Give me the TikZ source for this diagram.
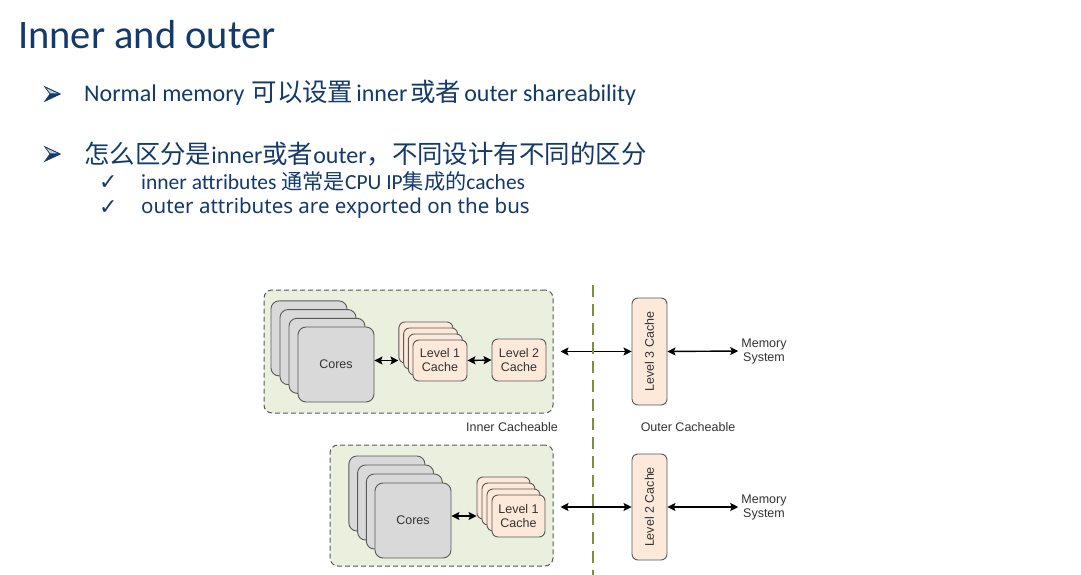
\documentclass[tikz,border=0pt]{standalone}
\usepackage{fontspec}
\setmainfont{Carlito}
\newfontfamily\cjk[Scale=1.06]{Noto Sans CJK SC}
\newfontfamily\subfont{Noto Sans}
\newfontfamily\diag{Liberation Sans}
\newfontfamily\sym{DejaVu Sans}
\usetikzlibrary{arrows.meta, positioning, calc}
\definecolor{slc}{HTML}{133A6B}
\definecolor{grc}{HTML}{EBF0DE}
\definecolor{crc}{HTML}{D9D9D9}
\definecolor{pec}{HTML}{FCE9DA}
\definecolor{olc}{HTML}{77933C}
\definecolor{edc}{HTML}{595959}

\begin{document}
\begin{tikzpicture}[x=1pt, y=-1pt,
    >={Stealth[length=8pt, width=8pt, inset=1.5pt]},
    title/.style={anchor=base west, inner sep=0, text=slc,
      font=\fontsize{40.5}{44}\selectfont},
    lvone/.style={anchor=base west, inner sep=0, text=slc,
      font=\fontsize{24}{28}\selectfont},
    lvtwo/.style={anchor=base west, inner sep=0, text=slc,
      font=\fontsize{21.5}{24}\selectfont},
    tick/.style={anchor=base west, inner sep=0, text=slc,
      font=\sym\fontsize{22}{24}\selectfont},
    group/.style={draw=edc, dashed, dash pattern=on 5pt off 3pt,
      line width=1pt, fill=grc, rounded corners=8pt},
    core/.style={draw=edc, line width=0.9pt, fill=crc,
      rounded corners=8pt, minimum width=76pt, minimum height=75pt,
      font=\diag\fontsize{12.5}{14}\selectfont, text=black!80},
    cache/.style={draw=edc, line width=0.9pt, fill=pec,
      rounded corners=6pt, minimum width=54pt, minimum height=42pt,
      align=center, font=\diag\fontsize{12.5}{14}\selectfont,
      text=black!80},
    outer/.style={cache, minimum height=35pt, rotate=90},
    lbl/.style={font=\diag\fontsize{12.5}{14}\selectfont, text=black!80,
      align=center, inner sep=3pt},
    link/.style={<->, line width=1.4pt}]
  \useasboundingbox (0,0) rectangle (1081,575);
  \fill[white] (0,0) rectangle (1081,575);

  % slide text
  \node[title] (ttl) at (18,49) {Inner and outer};
  \foreach \y in {94,154}{
    \filldraw[slc, line width=0.6pt] (44.5,\y-7.5) -- (60.5,\y) -- (44.5,\y+7.5)
      -- (50,\y) -- cycle;
    \fill[white!75!slc] (46.3,\y-5.8) -- (57.5,\y-0.6) -- (50.4,\y-0.6)
      -- cycle;
  }
  \node[lvone] (b1) at (84,102)
    {Normal memory\kern7pt{\cjk 可以设置}\kern3pt{}inner\kern3pt{\cjk 或者}\kern3pt{}outer shareability};
  \node[lvone] (b2) at (84,163)
    {{\cjk 怎么区分是}inner{\cjk 或者}outer{\cjk ，不同设计有不同的区分}};
  \node[tick] (t1) at (99,189) {✓};
  \node[tick] (t2) at (99,214) {✓};
  \node[lvtwo] (s1) at (141,189)
    {inner attributes {\cjk\fontsize{20}{24}\selectfont 通常是}CPU IP{\cjk\fontsize{20}{24}\selectfont 集成的}caches};
  \node[lvtwo, font=\subfont\fontsize{20.5}{24}\selectfont] (s2) at (141,213)
    {outer attributes are exported on the bus};

  % upper system
  \node[group, minimum width=289pt, minimum height=123pt]
    (inner1) at (408.5,351.5) {};
  \foreach \i in {3,2,1,0}
    \node[core] (uc\i) at (336-9*\i,364.5-8.7*\i) {};
  \node[lbl] at (uc0) {Cores};
  \foreach \i in {3,2,1,0}
    \node[cache, minimum height=41pt] (ul\i) at (440-4.7*\i,360.5-6*\i) {};
  \node[lbl] at (ul0) {Level 1\\Cache};
  \node[cache] (ulii) at (519,360) {Level 2\\Cache};
  \node[outer, minimum width=107pt] (l3) at (649.5,351.5) {Level 3 Cache};
  \node[lbl] (mem1) at (764,351) {Memory\\System};
  \draw[link] (uc0.east |- ul0.west) -- (ul3.west |- ul0.west);
  \draw[link] (ul0.east) -- (ulii.west);
  \draw[link] ([xshift=7pt]inner1.east) -- (l3.north);
  \draw[link] (l3.south) -- (mem1.west);

  \node[lbl] (icl) at (512,427) {Inner Cacheable};
  \node[lbl] (ocl) at (688,427) {Outer Cacheable};
  \coordinate (sep1) at (593,285);
  \coordinate (sep2) at (593,575);
  \draw[olc, line width=2pt, dash pattern=on 12pt off 7pt] (sep1) -- (sep2);

  % lower system
  \node[group, minimum width=223pt, minimum height=121pt]
    (inner2) at (441.5,505.5) {};
  \foreach \i in {3,2,1,0}
    \node[core] (lc\i) at (413-8.7*\i,520.5-9*\i) {};
  \node[lbl] at (lc0) {Cores};
  \foreach \i in {3,2,1,0}
    \node[cache, minimum width=53pt] (ll\i) at (518.5-5*\i,516-6*\i) {};
  \node[lbl] at (ll0) {Level 1\\Cache};
  \node[outer, minimum width=106pt] (l2) at (649.5,507) {Level 2 Cache};
  \node[lbl] (mem2) at (764,507) {Memory\\System};
  \draw[link] (lc0.east |- ll0.west) -- (ll3.west |- ll0.west);
  \draw[link] ([xshift=7pt]inner2.east |- l2.north) -- (l2.north);
  \draw[link] (l2.south) -- (mem2.west);
\end{tikzpicture}
\end{document}
